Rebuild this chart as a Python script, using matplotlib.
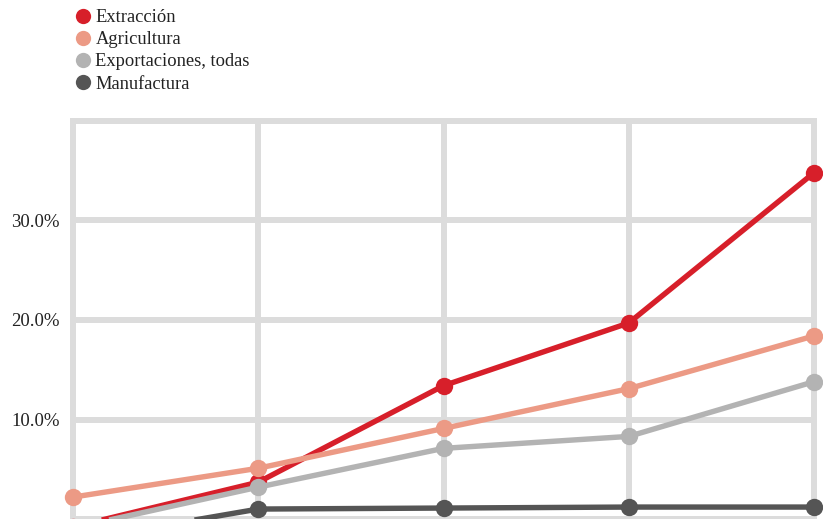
import matplotlib
matplotlib.use("Agg")
import matplotlib.pyplot as plt
from matplotlib.lines import Line2D
from matplotlib.patches import Rectangle

categories = ["P1", "P2", "P3", "P4", "P5"]
series_names = ["Extracción", "Agricultura", "Exportaciones, todas", "Manufactura"]
extraccion = [-0.8, 3.7, 13.4, 19.7, 34.8]
agricultura = [2.2, 5.1, 9.1, 13.1, 18.4]
exportaciones = [-0.9, 3.2, 7.1, 8.3, 13.8]
manufactura = [-2.2, 1.0, 1.1, 1.2, 1.2]
series_values = [extraccion, agricultura, exportaciones, manufactura]
colors = ["#d71f2a", "#ec9a85", "#b3b3b3", "#555555"]
y_ticks = [0, 10, 20, 30, 40]
y_tick_labels = ["", "10.0%", "20.0%", "30.0%", ""]

W, H = 823, 519
fig = plt.figure(figsize=(W / 100, H / 100), dpi=100)
ax = fig.add_axes([73 / W, 0 / H, 741 / W, (519 - 121) / H])
ax.set_xlim(0, len(categories) - 1)
ax.set_ylim(0, 40)

x = list(range(len(categories)))
grid_color = "#dcdcdc"
for xv in x:
    ax.axvline(xv, color=grid_color, lw=4.3, solid_capstyle="projecting", zorder=0, clip_on=False)
for yv in y_ticks:
    ax.axhline(yv, color=grid_color, lw=4.3, solid_capstyle="projecting", zorder=0, clip_on=False)

clip = Rectangle((-0.05, 0), 1.1, 1.2, transform=ax.transAxes, visible=False)
ax.add_patch(clip)
for name, vals, c in zip(series_names, series_values, colors):
    ln, = ax.plot(x, vals, color=c, lw=3.9, marker="o", markersize=12.5,
                  markeredgewidth=0, solid_capstyle="butt", zorder=3)
    ln.set_clip_path(clip)

ax.set_xticks(x)
ax.set_xticklabels([])
ax.set_yticks(y_ticks)
ax.set_yticklabels(y_tick_labels, family="Liberation Serif", fontsize=13.5, color="#222222")
ax.tick_params(axis="both", length=0, pad=9.5)
for s in ax.spines.values():
    s.set_visible(False)

handles = [Line2D([], [], color=c, marker="o", linestyle="none", markersize=11,
                  markeredgewidth=0) for c in colors]
leg = fig.legend(handles, series_names, loc="upper left", bbox_to_anchor=(77 / W, 1 - 9 / H),
                 frameon=False, prop={"family": "Liberation Serif", "size": 13.3},
                 handlelength=0.7, handletextpad=0.3, labelspacing=0.28, borderpad=0,
                 borderaxespad=0)
for t in leg.get_texts():
    t.set_color("#222222")

fig.savefig("out.png", dpi=100)
